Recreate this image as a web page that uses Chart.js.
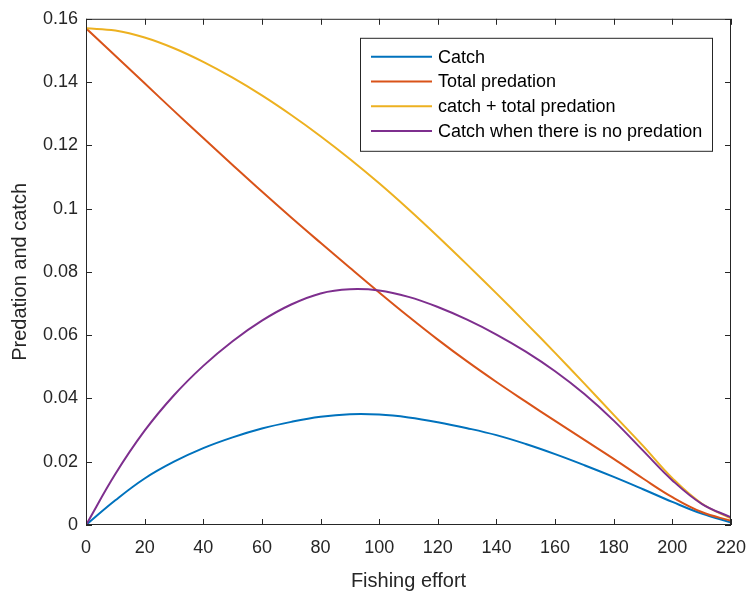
<!DOCTYPE html>
<html>
<head>
<meta charset="utf-8">
<script src="https://cdn.jsdelivr.net/npm/chart.js@4.4.1/dist/chart.umd.min.js"></script>
<style>
  html, body { margin: 0; padding: 0; background: #fff; }
  canvas { display: block; }
</style>
</head>
<body>
<canvas id="chart" width="746" height="593"></canvas>
<script>
// fishing effort grid (x axis)
const effort = [0, 10, 20, 30, 40, 50, 60, 70, 80, 90, 100, 110, 120, 130, 140, 150, 160, 170, 180, 190, 200, 210, 220];

// values
const catchVals     = [0, 0.0078, 0.0147, 0.0200, 0.0243, 0.0277, 0.0305, 0.0326, 0.0342, 0.0350, 0.0349, 0.0340, 0.0325, 0.0306, 0.0284, 0.0256, 0.0224, 0.0189, 0.0152, 0.0113, 0.0073, 0.0036, 0.0008];
const predationVals = [0.1570, 0.1483, 0.1396, 0.1309, 0.1223, 0.1138, 0.1054, 0.0972, 0.0892, 0.0813, 0.0735, 0.0659, 0.0586, 0.0517, 0.0452, 0.0390, 0.0329, 0.0269, 0.0209, 0.0147, 0.0088, 0.0041, 0.0013];
const sumVals       = [0.1570, 0.1563, 0.1541, 0.1507, 0.1464, 0.1414, 0.1358, 0.1296, 0.1229, 0.1157, 0.1080, 0.0998, 0.0912, 0.0823, 0.0732, 0.0639, 0.0544, 0.0447, 0.0348, 0.0250, 0.0148, 0.0068, 0.0021];
const noPredVals    = [0, 0.0161, 0.0298, 0.0410, 0.0503, 0.0581, 0.0646, 0.0697, 0.0732, 0.0745, 0.0741, 0.0721, 0.0689, 0.0649, 0.0602, 0.0548, 0.0486, 0.0414, 0.0330, 0.0235, 0.0141, 0.0067, 0.0024];

const seriesNames = ['Catch', 'Total predation', 'catch + total predation', 'Catch when there is no predation'];
const colors      = ['#0072BD', '#D95319', '#EDB120', '#7E2F8E'];

const xTicks = { min: 0, max: 220, step: 20 };
const yTicks = { min: 0, max: 0.16, step: 0.02 };

const FONT = '"Liberation Sans", Arial, Helvetica, sans-serif';
const AXIS = '#262626';

const pts = vals => effort.map((e, i) => ({ x: e, y: vals[i] }));

// MATLAB-style box with inward ticks on all four sides
const boxPlugin = {
  id: 'box',
  afterDatasetsDraw(chart) {
    const { ctx, chartArea: a, scales: { x, y } } = chart;
    const tl = 6;
    ctx.save();
    ctx.strokeStyle = AXIS;
    ctx.lineWidth = 1;
    ctx.strokeRect(a.left + 0.5, a.top + 0.5, a.right - a.left - 1, a.bottom - a.top - 1);
    ctx.beginPath();
    x.ticks.forEach(t => {
      const px = Math.round(x.getPixelForValue(t.value)) + 0.5;
      ctx.moveTo(px, a.bottom); ctx.lineTo(px, a.bottom - tl);
      ctx.moveTo(px, a.top);    ctx.lineTo(px, a.top + tl);
    });
    y.ticks.forEach(t => {
      const py = Math.round(y.getPixelForValue(t.value)) + 0.5;
      ctx.moveTo(a.left, py);  ctx.lineTo(a.left + tl, py);
      ctx.moveTo(a.right, py); ctx.lineTo(a.right - tl, py);
    });
    ctx.stroke();
    ctx.restore();
  }
};

// legend drawn inside the axes, top right
const legendPlugin = {
  id: 'innerLegend',
  afterDraw(chart) {
    const { ctx, chartArea: a } = chart;
    const sets = chart.data.datasets;
    ctx.save();
    ctx.font = `18px ${FONT}`;
    const textW = Math.max(...sets.map(d => ctx.measureText(d.label).width));
    const lineLen = 61, padL = 11, gap = 6, padR = 10, rowH = 24.7, padT = 19, padB = 20;
    const w = padL + lineLen + gap + textW + padR;
    const h = padT + rowH * (sets.length - 1) + padB;
    const right = a.right - 19, top = a.top + 19;
    const left = Math.round(right - w);
    ctx.fillStyle = '#fff';
    ctx.fillRect(left, top, w, h);
    ctx.strokeStyle = AXIS;
    ctx.lineWidth = 1;
    ctx.strokeRect(left + 0.5, top + 0.5, Math.round(w), Math.round(h));
    ctx.textBaseline = 'middle';
    ctx.textAlign = 'left';
    sets.forEach((d, i) => {
      const cy = top + padT + i * rowH;
      ctx.strokeStyle = d.borderColor;
      ctx.lineWidth = 2;
      ctx.beginPath();
      ctx.moveTo(left + padL, cy);
      ctx.lineTo(left + padL + lineLen, cy);
      ctx.stroke();
      ctx.fillStyle = '#000';
      ctx.fillText(d.label, left + padL + lineLen + gap, cy + 1);
    });
    ctx.restore();
  }
};

const seriesVals = [catchVals, predationVals, sumVals, noPredVals];

new Chart(document.getElementById('chart'), {
  type: 'line',
  data: {
    datasets: seriesVals.map((vals, i) => ({
      label: seriesNames[i],
      data: pts(vals),
      borderColor: colors[i],
      backgroundColor: colors[i],
      borderWidth: 2,
      pointRadius: 0,
      tension: 0.4,
      fill: false,
      order: seriesVals.length - i
    }))
  },
  options: {
    responsive: false,
    animation: false,
    events: [],
    layout: { padding: { top: 15, right: 0, left: 0, bottom: 0 } },
    plugins: { legend: { display: false }, tooltip: { enabled: false } },
    scales: {
      x: {
        type: 'linear',
        min: xTicks.min, max: xTicks.max,
        grid: { display: false, drawTicks: false },
        border: { display: false },
        ticks: { stepSize: xTicks.step, color: AXIS, padding: 12, font: { family: FONT, size: 18 }, maxRotation: 0 },
        title: { display: true, text: 'Fishing effort', color: AXIS, font: { family: FONT, size: 20 }, padding: { top: 3, bottom: 0 } },
        afterFit: s => { s.height = 68; s.paddingRight = 15; s.paddingLeft = 0; }
      },
      y: {
        min: yTicks.min, max: yTicks.max,
        grid: { display: false, drawTicks: false },
        border: { display: false },
        ticks: {
          stepSize: yTicks.step, color: AXIS, padding: 8, font: { family: FONT, size: 18 },
          callback: v => String(parseFloat(v.toFixed(2)))
        },
        title: { display: true, text: 'Predation and catch', color: AXIS, font: { family: FONT, size: 20 }, padding: { top: 8, bottom: 0 } },
        afterFit: s => { s.width = 86; }
      }
    }
  },
  plugins: [boxPlugin, legendPlugin]
});
</script>
</body>
</html>
